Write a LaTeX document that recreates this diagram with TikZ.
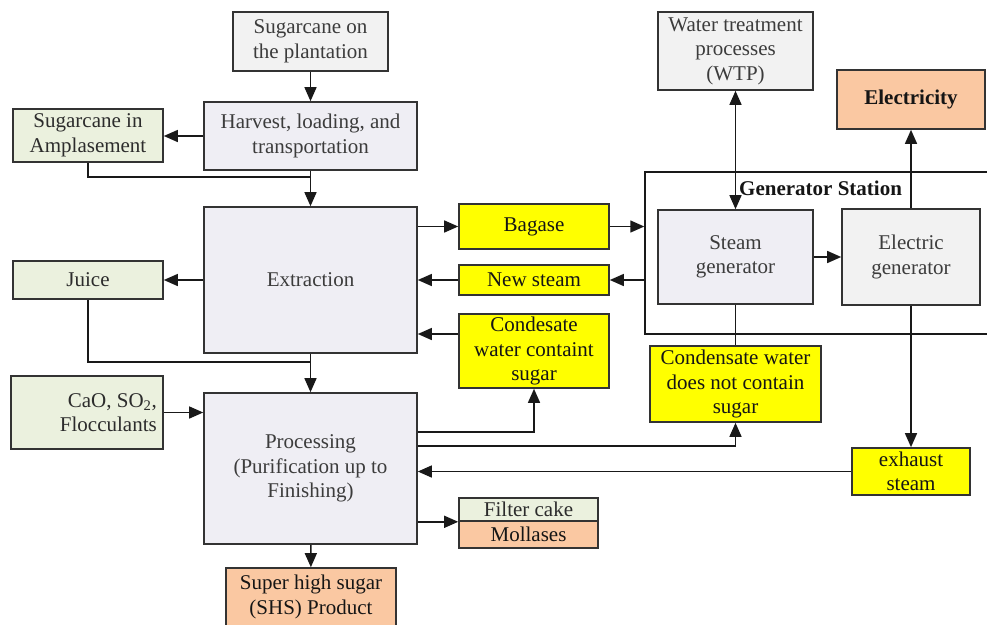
\documentclass[tikz,border=0pt]{standalone}
\usepackage{fontspec}
\setmainfont{Liberation Serif}
\usetikzlibrary{arrows.meta,calc}

\definecolor{boxgray}{HTML}{F2F2F2}
\definecolor{boxlav}{HTML}{EFEEF4}
\definecolor{boxgreen}{HTML}{EBF1DE}
\definecolor{boxyellow}{HTML}{FFFF00}
\definecolor{boxorange}{HTML}{FAC8A2}
\definecolor{edgecol}{HTML}{333333}
\definecolor{txtcol}{HTML}{3C3C3C}
\definecolor{darktxt}{HTML}{151515}

\tikzset{
  box/.style={draw=edgecol, line width=1.6pt, inner sep=0pt, align=center,
    text=txtcol, font=\fontsize{21}{24.5}\selectfont},
  graybox/.style={box, fill=boxgray},
  lavbox/.style={box, fill=boxlav},
  greenbox/.style={box, fill=boxgreen, text=darktxt!90},
  yellowbox/.style={box, fill=boxyellow, text=darktxt},
  orangebox/.style={box, fill=boxorange, text=darktxt},
  link/.style={draw=black!90, line width=1.4pt},
  tip/.tip={Triangle[length=14pt,width=12pt]},
  arr/.style={link, -tip},
  biarr/.style={link, tip-tip},
}

\begin{document}
\begin{tikzpicture}[x=1pt,y=-1pt]
\useasboundingbox (0,0) rectangle (987,624);

% generator station frame (runs past the right edge)
\node[draw=black!90, line width=1.4pt, minimum width=355pt, minimum height=162pt, inner sep=0pt] (gs) at (822.5,253) {};
\node[anchor=west, font=\fontsize{21}{24.5}\selectfont\bfseries, text=darktxt, inner sep=0pt] (gslabel) at (739,188) {Generator Station};

% cane supply
\node[graybox, minimum width=155pt, minimum height=59pt] (plant) at (310.5,41.5) {Sugarcane on\\the plantation};
\node[lavbox, minimum width=213pt, minimum height=68pt] (harv) at (310.5,136) {Harvest, loading, and\\transportation};
\node[greenbox, minimum width=150pt, minimum height=53pt] (amp) at (88,135.5) {Sugarcane in\\Amplasement};

% main line
\node[lavbox, minimum width=213pt, minimum height=146pt] (extr) at (310.5,280) {Extraction};
\node[greenbox, minimum width=150pt, minimum height=38pt] (juice) at (88,280) {Juice};
\node[greenbox, minimum width=152pt, minimum height=73pt] (cao) at (87,412.5) {};
\node[anchor=east, align=right, text=darktxt!90, font=\fontsize{21}{24.5}\selectfont, inner sep=0pt] (caotxt) at (157,412.5) {CaO, SO\textsubscript{2},\\Flocculants};
\node[lavbox, minimum width=213pt, minimum height=151pt] (proc) at (310.5,468.5) {Processing\\(Purification up to\\Finishing)};
\node[orangebox, minimum width=170pt, minimum height=58pt] (shs) at (311,597) {Super high sugar\\(SHS) Product};

% streams between plant and generator station
\node[yellowbox, minimum width=150pt, minimum height=45pt] (bag) at (534,226.5) {Bagase};
\node[yellowbox, minimum width=150pt, minimum height=30pt] (ns) at (534,280) {New steam};
\node[yellowbox, minimum width=150pt, minimum height=74pt] (cws) at (534,351) {Condesate\\water containt\\sugar};
\node[yellowbox, minimum width=171pt, minimum height=76pt] (cwn) at (735.5,384) {Condensate water\\does not contain\\sugar};
\node[yellowbox, minimum width=118pt, minimum height=47pt] (exh) at (911,471.5) {exhaust\\steam};
\node[greenbox, minimum width=139pt, minimum height=23pt] (filter) at (528.5,509.5) {Filter cake};
\node[orangebox, minimum width=139pt, minimum height=27pt] (moll) at (528.5,534.5) {Mollases};

% utilities
\node[graybox, minimum width=155pt, minimum height=78pt] (wtp) at (735.5,51) {Water treatment\\processes\\(WTP)};
\node[orangebox, minimum width=148pt, minimum height=59pt, font=\fontsize{21}{24.5}\selectfont\bfseries] (elec) at (911,99.5) {Electricity};
\node[lavbox, minimum width=155pt, minimum height=94pt] (steam) at (735.5,257) {Steam\\generator};
\node[graybox, minimum width=138pt, minimum height=96pt] (egen) at (911,257) {Electric\\generator};

% junction points on the main line
\coordinate (j1) at (harv.south |- 0,177);
\coordinate (j2) at (extr.south |- 0,362);
\coordinate (cwsin) at ([yshift=17pt]cws.west);

% connectors
\draw[arr] (plant) -- (harv);
\draw[arr] (harv.west) -- (amp.east |- harv.west);
\draw[arr] (harv) -- (extr);
\draw[link] (amp.south) |- (j1);
\draw[arr] (extr.west) -- (juice.east);
\draw[link] (juice.south) |- (j2);
\draw[arr] (extr) -- (proc);
\draw[arr] (cao.east) -- (proc.west |- cao.east);
\draw[arr] (proc) -- (shs);

\draw[arr] (extr.east |- bag.west) -- (bag.west);
\draw[arr] (bag.east) -- (gs.west |- bag.east);
\draw[arr] (gs.west |- ns.east) -- (ns.east);
\draw[arr] (ns.west) -- (extr.east |- ns.west);
\draw[arr] (cwsin) -- (extr.east |- cwsin);
\draw[arr] ([yshift=36.5pt]proc.east) -| (cws.south);
\draw[arr] ([yshift=22.5pt]proc.east) -| (cwn.south);
\draw[arr] (exh.west) -- (proc.east |- exh.west);
\draw[arr] (proc.east |- filter.south west) -- (filter.south west);

\draw[biarr] (wtp.south) -- (steam.north);
\draw[arr] (steam.east) -- (egen.west);
\draw[arr] (egen.north) -- (elec.south);
\draw[link] (steam.south) -- (cwn.north);
\draw[arr] (egen.south) -- (exh.north);
\end{tikzpicture}
\end{document}
